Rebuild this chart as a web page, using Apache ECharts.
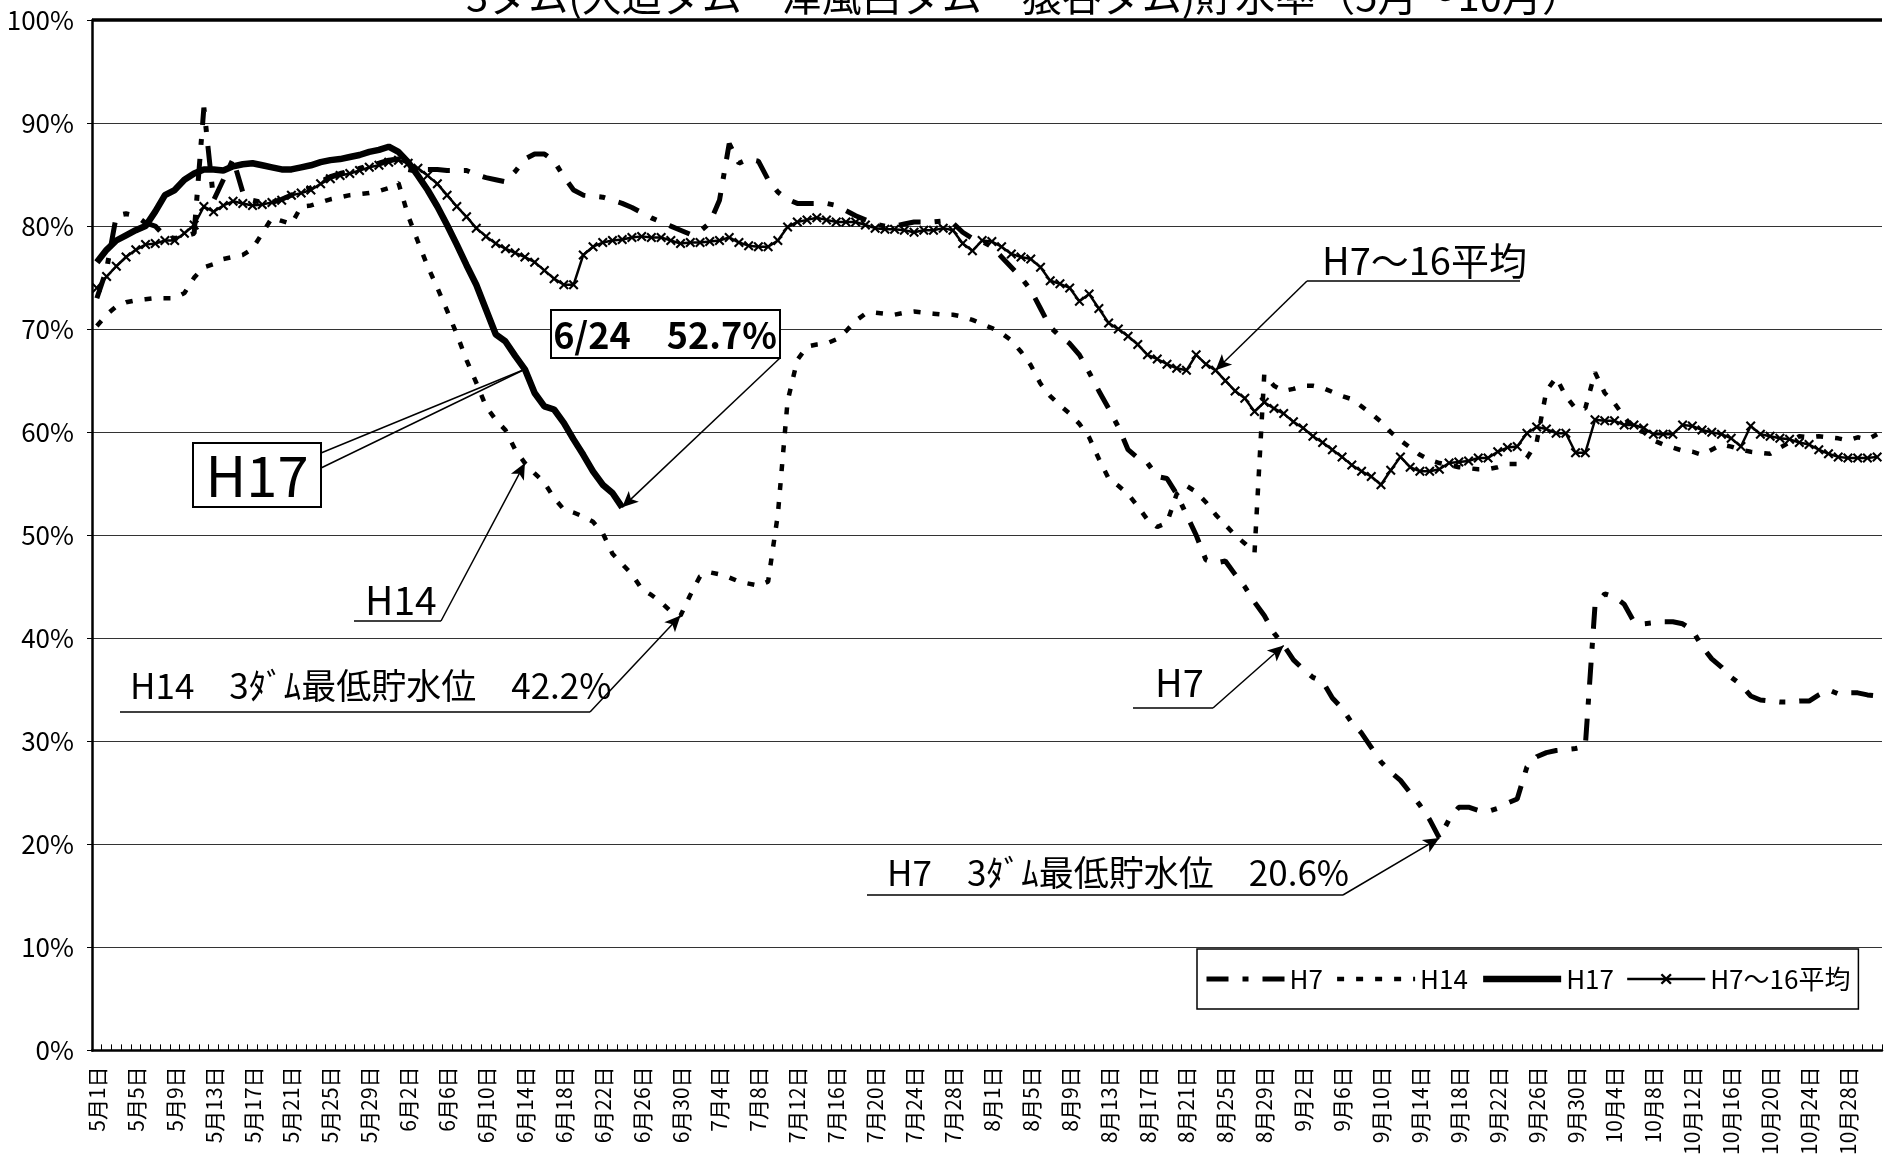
<!DOCTYPE html>
<html>
<head>
<meta charset="utf-8">
<title>3ダム貯水率</title>
<script src="https://cdn.jsdelivr.net/npm/echarts/dist/echarts.min.js"></script>
<style>
  html, body { margin: 0; padding: 0; background: #fff; }
  #main { width: 1884px; height: 1158px; }
</style>
</head>
<body>
<div id="main"></div>
<script>
// 日付カテゴリ (5/1 ~ 10/31)
var months = [5, 6, 7, 8, 9, 10];
var monthDays = [31, 30, 31, 31, 30, 31];
var dates = [];
months.forEach(function (m, k) {
  for (var d = 1; d <= monthDays[k]; d++) dates.push(m + '月' + d + '日');
});

var yTicks = [0, 10, 20, 30, 40, 50, 60, 70, 80, 90, 100];

// H7 貯水率(%)
var h7 = [
  73.0, 75.8, 81.0, 81.2, 81.0, 80.3, 80.0, 79.0, 78.8, 79.0, 79.3, 91.5, 82.5, 84.5, 86.5, 83.3, 82.5, 82.3, 82.3, 82.6, 83.0, 83.4, 83.7, 84.3, 84.8, 85.1, 85.3, 85.6, 85.9, 86.1, 86.4,
  86.5, 85.5, 85.3, 85.5, 85.5, 85.4, 85.4, 85.4, 85.0, 84.7, 84.5, 84.3, 85.3, 86.5, 87.0, 87.0, 86.3, 84.8, 83.5, 83.0, 82.9, 82.8, 82.5, 82.2, 81.8, 81.3, 80.8, 80.4, 80.0, 79.6,
  79.2, 79.5, 80.3, 82.5, 88.0, 86.1, 86.5, 86.3, 84.5, 83.3, 82.6, 82.2, 82.2, 82.2, 82.2, 82.0, 81.5, 81.0, 80.6, 80.2, 80.0, 80.0, 80.2, 80.4, 80.4, 80.4, 80.5, 80.3, 79.4, 78.8, 78.5,
  78.0, 77.0, 76.0, 75.0, 73.8, 72.0, 70.2, 69.3, 68.6, 67.5, 65.8, 64.0, 62.3, 60.5, 58.3, 57.5, 57.0, 55.7, 55.5, 54.0, 52.0, 50.0, 47.6, 47.3, 47.5, 46.2, 45.0, 43.5, 42.2, 40.5, 39.3,
  37.9, 37.0, 36.2, 35.8, 34.2, 33.2, 31.8, 30.8, 29.4, 28.0, 27.0, 26.2, 25.0, 23.8, 22.4, 20.6, 22.4, 23.6, 23.6, 23.3, 23.2, 23.5, 24.0, 24.4, 27.5, 28.5, 28.9, 29.1, 29.2, 29.3,
  29.5, 43.2, 44.3, 44.0, 43.3, 41.6, 41.4, 41.5, 41.6, 41.6, 41.4, 40.8, 39.2, 38.0, 37.2, 36.2, 35.5, 34.4, 34.0, 33.9, 33.8, 33.8, 33.9, 33.9, 34.5, 35.0, 34.6, 34.7, 34.7, 34.5, 34.4
];

// H14 貯水率(%)
var h14 = [
  70.3, 71.4, 72.2, 72.6, 72.8, 72.9, 73.0, 73.0, 73.0, 73.5, 75.0, 76.0, 76.3, 76.8, 77.0, 77.2, 77.8, 79.3, 80.8, 80.5, 80.2, 81.9, 82.0, 82.3, 82.6, 82.8, 83.0, 83.1, 83.2, 83.4, 83.7,
  84.2, 81.0, 78.5, 76.1, 74.0, 71.8, 69.5, 67.0, 64.8, 62.5, 61.2, 60.2, 58.3, 57.0, 56.0, 55.1, 53.6, 52.5, 52.2, 51.8, 51.3, 50.2, 48.2, 47.2, 46.2, 44.8, 44.2, 43.5, 42.6, 42.2,
  44.2, 46.0, 46.4, 46.2, 45.9, 45.5, 45.3, 45.1, 45.5, 52.0, 63.0, 67.0, 68.3, 68.5, 68.6, 69.0, 69.8, 70.8, 71.5, 71.6, 71.5, 71.4, 71.6, 71.7, 71.6, 71.5, 71.4, 71.4, 71.2, 70.9, 70.5,
  70.1, 69.6, 68.9, 67.8, 66.5, 64.7, 63.5, 62.6, 61.8, 60.8, 59.5, 57.4, 55.5, 54.8, 54.0, 52.8, 51.5, 50.8, 51.2, 54.0, 54.8, 54.2, 53.2, 52.0, 51.0, 50.0, 49.2, 48.3, 65.6, 64.5, 64.0,
  64.2, 64.5, 64.5, 64.3, 63.9, 63.5, 63.2, 62.5, 61.8, 61.0, 60.0, 59.2, 58.5, 57.8, 57.3, 57.0, 56.8, 56.6, 56.5, 56.4, 56.4, 56.6, 56.9, 56.9, 57.5, 59.0, 64.0, 65.3, 63.5, 62.3,
  62.3, 65.8, 63.8, 62.8, 61.5, 60.3, 60.0, 59.2, 58.8, 58.5, 58.2, 58.1, 57.8, 58.3, 58.8, 58.6, 58.3, 58.1, 58.0, 57.9, 58.5, 59.0, 59.6, 59.5, 59.6, 59.5, 59.4, 59.2, 59.5, 59.3, 59.8
];

// H17 貯水率(%) 5/1 ~ 6/24
var h17 = [
  76.5, 77.7, 78.6, 79.1, 79.6, 80.0, 81.4, 83.0, 83.5, 84.5, 85.1, 85.5, 85.5, 85.4, 85.8, 86.0, 86.1, 85.9, 85.7, 85.5, 85.5, 85.7, 85.9, 86.2, 86.4, 86.5, 86.7, 86.9, 87.2, 87.4, 87.7,
  87.2, 86.2, 84.9, 83.5, 81.9, 80.1, 78.2, 76.2, 74.3, 71.9, 69.5, 68.8, 67.4, 66.1, 63.8, 62.5, 62.2, 60.9, 59.3, 57.8, 56.2, 54.9, 54.1, 52.7
];

// H7~16 平均(%)
var avg = [
  74.0, 75.1, 76.1, 77.0, 77.7, 78.2, 78.3, 78.6, 78.6, 79.3, 80.1, 81.9, 81.4, 82.0, 82.4, 82.2, 82.0, 82.1, 82.3, 82.5, 83.0, 83.2, 83.5, 84.1, 84.6, 84.9, 85.1, 85.4, 85.7, 85.9, 86.2,
  86.4, 86.1, 85.6, 84.9, 84.1, 83.0, 81.9, 80.9, 79.8, 79.0, 78.3, 77.8, 77.4, 77.0, 76.5, 75.7, 74.9, 74.3, 74.3, 77.2, 78.0, 78.4, 78.6, 78.7, 78.9, 79.0, 78.9, 78.9, 78.6, 78.3,
  78.4, 78.4, 78.5, 78.6, 78.9, 78.4, 78.1, 78.0, 78.0, 78.6, 79.9, 80.4, 80.6, 80.8, 80.6, 80.4, 80.4, 80.4, 80.1, 79.8, 79.7, 79.7, 79.6, 79.4, 79.6, 79.6, 79.8, 79.6, 78.3, 77.6, 78.6,
  78.5, 78.0, 77.3, 77.0, 76.8, 76.0, 74.7, 74.4, 74.0, 72.7, 73.4, 72.0, 70.6, 70.0, 69.3, 68.5, 67.5, 67.1, 66.6, 66.2, 66.0, 67.5, 66.6, 66.0, 65.0, 64.0, 63.3, 62.0, 62.9, 62.3, 61.8,
  61.0, 60.4, 59.6, 59.0, 58.3, 57.6, 56.8, 56.2, 55.7, 54.9, 56.3, 57.6, 56.6, 56.2, 56.2, 56.4, 57.0, 57.1, 57.2, 57.5, 57.5, 58.1, 58.5, 58.6, 59.9, 60.5, 60.3, 59.9, 59.9, 58.0,
  58.0, 61.2, 61.1, 61.1, 60.7, 60.7, 60.4, 59.8, 59.8, 59.8, 60.7, 60.6, 60.2, 60.0, 59.8, 59.4, 58.6, 60.6, 59.8, 59.6, 59.4, 59.3, 59.0, 58.8, 58.3, 57.9, 57.6, 57.5, 57.5, 57.5, 57.6
];

var narrow = '"Liberation Sans Narrow", "Arial Narrow", "Noto Sans CJK JP", sans-serif';
var cjk = '"Noto Sans CJK JP", sans-serif';
var xMark = 'path://M0,1.5L1.5,0L5,3.5L8.5,0L10,1.5L6.5,5L10,8.5L8.5,10L5,6.5L1.5,10L0,8.5L3.5,5Z';

function lbl(text, x, y, size) {
  return { type: 'text', x: x, y: y, z: 101,
    style: { text: text, font: size + 'px ' + narrow, fill: '#000', textVerticalAlign: 'middle' } };
}
function hline(x1, x2, y) {
  return { type: 'line', z: 101, shape: { x1: x1, y1: y, x2: x2, y2: y },
    style: { stroke: '#000', lineWidth: 1.5 } };
}

var option = {
  animation: false,
  backgroundColor: '#fff',
  grid: { left: 92, right: 2, top: 20, bottom: 105 },
  legend: {
    left: 1197, top: 949,
    padding: [17, 8, 17, 7],
    itemWidth: 78, itemHeight: 14, itemGap: 12,
    borderColor: '#000', borderWidth: 1.5, backgroundColor: '#fff',
    lineStyle: { width: 'inherit' },
    textStyle: { fontSize: 26, color: '#000', fontFamily: narrow },
    data: [
      { name: 'H7', itemStyle: { opacity: 0 } },
      { name: 'H14', itemStyle: { opacity: 0 } },
      { name: 'H17', itemStyle: { opacity: 0 } },
      { name: 'H7～16平均' }
    ]
  },
  xAxis: {
    type: 'category',
    data: dates,
    boundaryGap: true,
    axisLine: { lineStyle: { color: '#000', width: 2.5 } },
    axisTick: { show: true, inside: true, interval: 0, length: 6, lineStyle: { color: '#000', width: 1 } },
    axisLabel: { interval: 3, rotate: 90, fontSize: 21, color: '#000', margin: 16, fontFamily: cjk }
  },
  yAxis: {
    type: 'value',
    min: yTicks[0], max: yTicks[yTicks.length - 1], interval: 10,
    axisLine: { show: true, lineStyle: { color: '#000', width: 2.5 } },
    axisTick: { show: true, length: 5, lineStyle: { color: '#000' } },
    axisLabel: { formatter: '{value}%', fontSize: 26, color: '#000', margin: 18, fontFamily: narrow },
    splitLine: { lineStyle: { color: '#333', width: 1.2 } }
  },
  series: [
    {
      name: 'H7', type: 'line', data: h7, symbol: 'none',
      lineStyle: { color: '#000', width: 5, type: [22, 14, 6, 14] },
      itemStyle: { color: '#000' },
      markLine: {
        silent: true, symbol: 'none', label: { show: false },
        lineStyle: { color: '#000', width: 3.5, type: 'solid' },
        data: [{ yAxis: 100 }]
      }
    },
    {
      name: 'H14', type: 'line', data: h14, symbol: 'none',
      lineStyle: { color: '#000', width: 4.5, type: [7, 12] },
      itemStyle: { color: '#000' }
    },
    {
      name: 'H17', type: 'line', data: h17, symbol: 'none',
      lineStyle: { color: '#000', width: 6.5 },
      itemStyle: { color: '#000' },
      markLine: {
        silent: true, symbol: ['none', 'arrow'], symbolSize: [11, 16],
        label: { show: false },
        lineStyle: { color: '#000', width: 1.5, type: 'solid' },
        data: [
          [{ x: 780, y: 358 }, { coord: ['6月24日', 52.7] }],
          [{ x: 441, y: 621 }, { coord: ['6月14日', 57.0] }],
          [{ x: 590, y: 712 }, { coord: ['6月30日', 42.2] }],
          [{ x: 1213, y: 708 }, { coord: ['8月31日', 39.3] }],
          [{ x: 1343, y: 895 }, { coord: ['9月16日', 20.6] }],
          [{ x: 1307, y: 281 }, { coord: ['8月24日', 66.0] }],
          [{ x: 321, y: 453, symbol: 'none' }, { coord: ['6月14日', 66.1], symbol: 'none' }],
          [{ x: 321, y: 468, symbol: 'none' }, { coord: ['6月14日', 66.1], symbol: 'none' }]
        ]
      }
    },
    {
      name: 'H7～16平均', type: 'line', data: avg,
      symbol: xMark, symbolSize: 10, showAllSymbol: true,
      lineStyle: { color: '#000', width: 2.5 },
      itemStyle: { color: '#000' }
    }
  ],
  graphic: [
    { type: 'text', x: 1024, y: 16, z: 101,
      style: { text: '3ダム(大迫ダム・津風呂ダム・猿谷ダム)貯水率（5月～10月）', font: '40px ' + cjk,
        fill: '#000', textAlign: 'center', textVerticalAlign: 'bottom' } },
    { type: 'rect', z: 100, shape: { x: 551, y: 310, width: 229, height: 48 },
      style: { fill: '#fff', stroke: '#000', lineWidth: 2 } },
    { type: 'text', x: 665, y: 335, z: 101,
      style: { text: '6/24　52.7%', font: 'bold 36px ' + narrow, fill: '#000', textAlign: 'center', textVerticalAlign: 'middle' } },
    { type: 'rect', z: 100, shape: { x: 193, y: 443, width: 128, height: 64 },
      style: { fill: '#fff', stroke: '#000', lineWidth: 2 } },
    { type: 'text', x: 257, y: 476, z: 101,
      style: { text: 'H17', font: '56px ' + narrow, fill: '#000', textAlign: 'center', textVerticalAlign: 'middle' } },
    lbl('H14', 365, 600, 39), hline(354, 441, 621),
    lbl('H14　3ﾀﾞﾑ最低貯水位　42.2%', 130, 686, 35), hline(120, 590, 712),
    lbl('H7', 1155, 683, 38), hline(1133, 1213, 708),
    lbl('H7　3ﾀﾞﾑ最低貯水位　20.6%', 887, 873, 35), hline(867, 1343, 895),
    lbl('H7～16平均', 1322, 261, 38), hline(1307, 1520, 281)
  ]
};

var chart = echarts.init(document.getElementById('main'));
chart.setOption(option);
</script>
</body>
</html>
